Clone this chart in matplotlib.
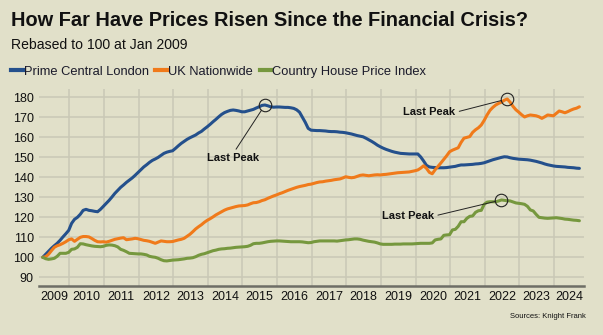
import numpy as np
import matplotlib.pyplot as plt
from matplotlib.lines import Line2D

plt.rcParams['font.family'] = ['Liberation Sans', 'DejaVu Sans']

# Monthly index values from Jan 2009, rebased to 100
pcl = [
    100, 101.5, 103, 104.5, 105.8, 107, 108.5, 110.2, 111.8, 113.5, 117, 119,
    120, 121.5, 123.5, 124, 123.5, 123.3, 123, 122.8, 124, 125.5, 127, 128.5,
    130.2, 132, 133.5, 135, 136.2, 137.5, 138.6, 139.7, 141, 142.4, 143.8, 145.2,
    146.3, 147.5, 148.5, 149.2, 150, 151, 152, 152.6, 153, 153.3, 154.5, 155.8,
    157, 158, 159, 159.8, 160.5, 161.2, 162.2, 163, 164.2, 165.3, 166.5, 167.8,
    169, 170.3, 171.5, 172.4, 173, 173.5, 173.7, 173.5, 173.2, 172.8, 172.8, 173.2,
    173.6, 174, 174.7, 175.3, 176, 176.2, 175.8, 175.3, 175.1, 175.2, 175.2, 175.1,
    175, 175, 174.8, 174.5, 173.8, 172.6, 170, 167.5, 164.5, 163.6, 163.5, 163.4,
    163.4, 163.3, 163.2, 163, 162.9, 162.9, 162.8, 162.6, 162.5, 162.3, 162, 161.7,
    161.3, 160.9, 160.6, 160.3, 159.6, 158.8, 158, 157.1, 156.1, 155.3, 154.6, 154,
    153.5, 153, 152.6, 152.3, 152, 151.9, 151.8, 151.7, 151.7, 151.7, 151.7, 150.2,
    148.2, 146, 145.2, 145, 144.9, 144.8, 144.8, 144.8, 144.9, 145.1, 145.3, 145.5,
    145.9, 146.2, 146.2, 146.3, 146.4, 146.5, 146.7, 146.8, 147, 147.3, 147.8, 148.3,
    148.8, 149.2, 149.6, 150, 150.3, 150.2, 149.8, 149.5, 149.3, 149.1, 149, 148.9,
    148.8, 148.6, 148.3, 148, 147.6, 147.2, 146.7, 146.3, 146, 145.7, 145.5, 145.4,
    145.3, 145.2, 145, 144.9, 144.8, 144.6, 144.5,
]

nationwide = [
    100, 100.3, 101.5, 103.3, 105, 105.8, 106.3, 107, 107.8, 108.8, 109.2, 108,
    109, 110, 110.4, 110.4, 110.2, 109.4, 108.5, 107.8, 107.7, 107.8, 107.6, 108,
    108.5, 109, 109.3, 109.6, 109.8, 108.8, 109, 109.2, 109.5, 109.3, 108.9, 108.5,
    108.3, 108, 107.5, 107, 107.6, 108.2, 108, 107.8, 107.8, 107.9, 108.3, 108.7,
    109, 109.5, 110.5, 111.5, 112.8, 114.2, 115.3, 116.3, 117.5, 118.5, 119.3, 120.2,
    121.2, 122, 122.8, 123.6, 124.2, 124.6, 125, 125.4, 125.7, 125.8, 125.9, 126.2,
    126.8, 127.3, 127.4, 127.8, 128.4, 128.8, 129.5, 130.1, 130.7, 131.2, 131.8, 132.3,
    132.9, 133.5, 134, 134.5, 135, 135.4, 135.7, 136, 136.4, 136.6, 137, 137.4,
    137.7, 137.8, 138.1, 138.3, 138.5, 138.8, 139, 139.2, 139.7, 140.3, 140, 139.8,
    140, 140.5, 141, 141.2, 141, 140.8, 141, 141.2, 141.3, 141.2, 141.4, 141.5,
    141.7, 141.9, 142.1, 142.3, 142.4, 142.5, 142.6, 142.7, 143, 143.3, 143.7, 144.6,
    145.8, 144.5, 142.5, 141.8, 143.8, 145.5, 147.2, 149, 150.8, 152.8, 153.6, 154.2,
    154.8, 157.5, 159.6, 160, 160.4, 162.5, 163.8, 164.8, 166.2, 168.5, 171.2, 173.5,
    175, 176.2, 177, 177.6, 178.6, 179.2, 177.6, 175.5, 173.8, 172.6, 171.3, 170.2,
    170.8, 171.2, 171, 170.8, 170.3, 169.5, 170.3, 171.2, 171, 170.8, 172, 173.2,
    172.8, 172.3, 172.9, 173.6, 174.2, 174.6, 175.3,
]

country = [
    100, 99.3, 99, 99.2, 99.5, 100.5, 102, 102, 102, 102.5, 104, 104.2,
    105, 106.8, 106.7, 106.3, 106, 105.7, 105.5, 105.4, 105.3, 105.5, 106, 106.2,
    106.1, 105.8, 105.2, 104, 103.5, 102.8, 102, 101.9, 101.8, 101.7, 101.7, 101.5,
    101.2, 100.5, 100.2, 100, 99.5, 98.8, 98.3, 98.2, 98.4, 98.6, 98.7, 98.8,
    99, 99.2, 99.5, 99.6, 99.8, 100.3, 101, 101.5, 101.8, 102.3, 102.8, 103.3,
    103.6, 104, 104.2, 104.3, 104.5, 104.6, 104.8, 105, 105.1, 105.2, 105.3, 105.5,
    106, 106.8, 107, 107, 107.2, 107.5, 107.8, 108, 108.1, 108.2, 108.2, 108.1,
    108, 107.9, 107.8, 107.8, 107.8, 107.8, 107.7, 107.5, 107.3, 107.4, 107.8, 108,
    108.2, 108.2, 108.2, 108.2, 108.2, 108.2, 108.1, 108.3, 108.5, 108.7, 108.8, 109,
    109.2, 109.2, 109, 108.6, 108.3, 108, 107.8, 107.6, 107.2, 106.7, 106.5, 106.5,
    106.5, 106.5, 106.6, 106.6, 106.6, 106.7, 106.7, 106.7, 106.7, 106.8, 106.9, 107,
    107, 107, 107, 107.2, 108.7, 109, 109.2, 111, 111.2, 111.3, 113.7, 114,
    115.5, 117.8, 117.8, 119.5, 120.5, 120.7, 122.5, 123.3, 123.5, 126.5, 127.6, 127.8,
    127.8, 127.8, 128.2, 128.7, 128.5, 128.3, 128.2, 127.7, 127.2, 127, 126.8, 126.5,
    125.5, 123.7, 123.2, 121.5, 120, 119.8, 119.6, 119.5, 119.6, 119.7, 119.8, 119.6,
    119.4, 119.1, 119, 118.8, 118.6, 118.5, 118.3,
]

years = [str(y) for y in range(2009, 2025)]
series_names = ['Prime Central London', 'UK Nationwide', 'Country House Price Index']
colors = ['#24508C', '#F07A1A', '#76983E']

bg = '#E1E0C9'
grid_col = '#C9C8B6'

fig = plt.figure(figsize=(6.03, 3.35), dpi=100, facecolor=bg)
ax = fig.add_axes([39.3 / 603, 49.3 / 335, 544.7 / 603, 196.7 / 335])
ax.set_facecolor(bg)

months = np.arange(len(pcl))
for vals, c in zip([pcl, nationwide, country], colors):
    ax.plot(months, vals, color=c, lw=2.2, solid_capstyle='round', zorder=3)

# x axis: year bands, gridlines at the band edges, labels in the middle
xmin, xmax = -1.2, 187.6
edges = 9.2 + 12 * np.arange(len(years) - 1)
bounds = np.concatenate([[xmin], edges, [xmax]])
ax.set_xlim(xmin, xmax)
ax.set_ylim(85.8, 184.2)
ax.set_xticks(edges)
ax.set_xticklabels([])
ax.set_xticks((bounds[:-1] + bounds[1:]) / 2, minor=True)
ax.set_xticklabels(years, minor=True)
ax.set_yticks(np.arange(90, 181, 10))
ax.tick_params(axis='x', which='both', length=0)
ax.tick_params(axis='x', which='minor', pad=4, labelsize=9, labelcolor='#111111')
ax.tick_params(axis='y', length=0, pad=4, labelsize=9, labelcolor='#111111')
ax.grid(True, which='major', color=grid_col, lw=1.1, zorder=0)

for s in ['top', 'right', 'left']:
    ax.spines[s].set_visible(False)
ax.spines['bottom'].set_color('#6E6E66')
ax.spines['bottom'].set_linewidth(1.8)

# "Last Peak" callouts at each series' maximum
def mark_peak(vals, text_xy, relpos):
    i = int(np.argmax(vals))
    ax.plot(months[i], vals[i], 'o', ms=9, mfc='none', mec='#222222', mew=0.8, zorder=4)
    ax.annotate('Last Peak', xy=(months[i], vals[i]), xytext=text_xy,
                fontsize=8, fontweight='bold', color='#111111',
                ha='center', va='center',
                arrowprops=dict(arrowstyle='-', color='#222222', lw=0.7,
                                relpos=relpos, shrinkA=1, shrinkB=4.5),
                zorder=5)

mark_peak(pcl, (66.1, 149.6), (0.5, 1.0))
mark_peak(nationwide, (133.9, 172.5), (1.0, 0.5))
mark_peak(country, (126.5, 120.6), (1.0, 0.5))

fig.text(11 / 603, 1 - 20 / 335, 'How Far Have Prices Risen Since the Financial Crisis?',
         fontsize=14.4, fontweight='bold', color='#111111', va='center', ha='left')
fig.text(11 / 603, 1 - 45 / 335, 'Rebased to 100 at Jan 2009',
         fontsize=10.1, color='#111111', va='center', ha='left')

handles = [Line2D([], [], color=c, lw=3) for c in colors]
fig.legend(handles, series_names, loc='center left', bbox_to_anchor=(11 / 603, 1 - 72 / 335),
           ncol=3, frameon=False, fontsize=9.3, handlelength=0.9, handletextpad=0.1,
           columnspacing=0.5, borderpad=0, borderaxespad=0, labelcolor='#1a1a2a')

fig.text(586 / 603, 1 - 316 / 335, 'Sources: Knight Frank', fontsize=5.5,
         color='#111111', ha='right', va='center')

fig.savefig('out.png', dpi=100, facecolor=bg)
